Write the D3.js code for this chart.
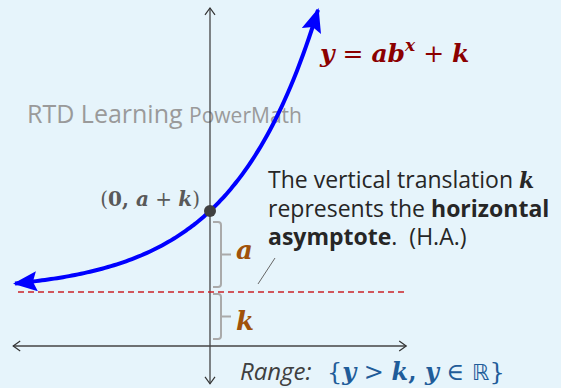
<!DOCTYPE html>
<html>
<head>
<meta charset="utf-8">
<script src="https://cdn.jsdelivr.net/npm/d3@7"></script>
<style>
  html, body { margin: 0; padding: 0; background: #e6f4fb; }
  svg { display: block; }
</style>
</head>
<body>
<div id="chart"></div>
<script>
// Chart dimensions.
const w = 561;
const h = 388;

// Function parameters: y = a * b^x + k
const a = 1.5;
const b = 2;
const k = 1;

// Visible extents (data units).
const xView = [-3.5, 5.85];
const yView = [-0.778, 6.407];
const xAxisExtent = [-3.28, 3.27];
const yAxisExtent = [-0.7, 6.26];
const asymptoteExtent = [-3.2, 3.27];
const curveExtent = [-3.25, 1.8];

const mathFont = "'DejaVu Serif', 'Liberation Serif', serif";
const sansFont = "'Open Sans', 'Noto Sans', sans-serif";

const x = d3.scaleLinear(xView, [0, w]);
const y = d3.scaleLinear(yView, [h, 0]);

const svg = d3.select("#chart").append("svg")
  .attr("width", w)
  .attr("height", h)
  .attr("viewBox", [0, 0, w, h]);

svg.append("rect").attr("width", w).attr("height", h).attr("fill", "#e6f4fb");

const defs = svg.append("defs");
// filled arrowhead for the curve
defs.append("marker")
  .attr("id", "head")
  .attr("markerUnits", "userSpaceOnUse")
  .attr("viewBox", "0 -10 24 20")
  .attr("refX", 22).attr("refY", 0)
  .attr("markerWidth", 24).attr("markerHeight", 20)
  .attr("orient", "auto-start-reverse")
  .append("path")
  .attr("d", "M0,-10L24,0L0,10L4,0Z")
  .attr("fill", "#0000ff");
// open chevron for the axes
defs.append("marker")
  .attr("id", "chev")
  .attr("markerUnits", "userSpaceOnUse")
  .attr("viewBox", "-8 -6 10 12")
  .attr("refX", 0).attr("refY", 0)
  .attr("markerWidth", 10).attr("markerHeight", 12)
  .attr("orient", "auto-start-reverse")
  .append("path")
  .attr("d", "M-7,-5L0,0L-7,5")
  .attr("fill", "none")
  .attr("stroke", "#333")
  .attr("stroke-width", 1.2);

// Watermark
const wm = svg.append("text")
  .attr("x", 27).attr("y", 123)
  .attr("font-family", sansFont)
  .attr("fill", "#9a9a9a");
wm.append("tspan").attr("font-size", 25).text("RTD Learning ");
wm.append("tspan").attr("font-size", 21).text("PowerMath");

// Axes
svg.append("line")
  .attr("x1", x(xAxisExtent[0])).attr("x2", x(xAxisExtent[1]))
  .attr("y1", y(0)).attr("y2", y(0))
  .attr("stroke", "#444").attr("stroke-width", 1.3)
  .attr("marker-start", "url(#chev)").attr("marker-end", "url(#chev)");
svg.append("line")
  .attr("x1", x(0)).attr("x2", x(0))
  .attr("y1", y(yAxisExtent[0])).attr("y2", y(yAxisExtent[1]))
  .attr("stroke", "#444").attr("stroke-width", 1.3)
  .attr("marker-start", "url(#chev)").attr("marker-end", "url(#chev)");

// Horizontal asymptote
svg.append("line")
  .attr("x1", x(asymptoteExtent[0])).attr("x2", x(asymptoteExtent[1]))
  .attr("y1", y(k)).attr("y2", y(k))
  .attr("stroke", "#cc2228").attr("stroke-width", 1.5)
  .attr("stroke-dasharray", "6,4");

// Braces for a and k
function brace(y0, y1) {
  const xl = x(0) + 3, xr = x(0) + 11, r = 3, ym = (y0 + y1) / 2;
  return `M${xl},${y0}H${xr - r}Q${xr},${y0} ${xr},${y0 + r}V${y1 - r}Q${xr},${y1} ${xr - r},${y1}H${xl}` +
    `M${xr},${ym}H${xr + 10}`;
}
svg.append("path").attr("d", brace(y(a + k) + 11, y(k) - 5))
  .attr("fill", "none").attr("stroke", "#aaa").attr("stroke-width", 2);
svg.append("path").attr("d", brace(y(k) + 2, y(0) - 7))
  .attr("fill", "none").attr("stroke", "#aaa").attr("stroke-width", 2);

svg.append("text").attr("x", x(0) + 26).attr("y", (y(a + k) + y(k)) / 2 + 8)
  .attr("font-family", mathFont).attr("font-weight", "bold").attr("font-style", "italic")
  .attr("font-size", 26).attr("fill", "#a0520a").text("a");
svg.append("text").attr("x", x(0) + 26).attr("y", (y(k) + y(0)) / 2 + 11)
  .attr("font-family", mathFont).attr("font-weight", "bold").attr("font-style", "italic")
  .attr("font-size", 26).attr("fill", "#a0520a").text("k");

// Curve
const xs = d3.range(curveExtent[0], curveExtent[1] + 1e-9, 0.05);
const line = d3.line().x(d => x(d)).y(d => y(a * Math.pow(b, d) + k)).curve(d3.curveBasis);
svg.append("path").datum(xs)
  .attr("d", line)
  .attr("fill", "none").attr("stroke", "#0000ff").attr("stroke-width", 4)
  .attr("marker-start", "url(#head)").attr("marker-end", "url(#head)");

// y-intercept point
svg.append("circle").attr("cx", x(0)).attr("cy", y(a + k)).attr("r", 6).attr("fill", "#404040");

// Point label (0, a + k)
const pl = svg.append("text")
  .attr("x", x(0) - 10).attr("y", y(a + k) - 5)
  .attr("text-anchor", "end")
  .attr("font-family", mathFont).attr("font-size", 20).attr("fill", "#595959");
pl.append("tspan").text("(");
pl.append("tspan").attr("font-weight", "bold").text("0");
pl.append("tspan").attr("font-weight", "bold").text(", ");
pl.append("tspan").attr("font-weight", "bold").attr("font-style", "italic").text("a");
pl.append("tspan").text(" + ");
pl.append("tspan").attr("font-weight", "bold").attr("font-style", "italic").text("k");
pl.append("tspan").text(")");

// Equation label
const eq = svg.append("text")
  .attr("x", 320).attr("y", 62)
  .attr("font-family", mathFont).attr("font-size", 25).attr("fill", "#8b0000");
eq.append("tspan").attr("font-weight", "bold").attr("font-style", "italic").text("y");
eq.append("tspan").text(" = ");
eq.append("tspan").attr("font-weight", "bold").attr("font-style", "italic").text("ab");
eq.append("tspan").attr("font-weight", "bold").attr("font-style", "italic")
  .attr("font-size", 17).attr("dy", -11).text("x");
eq.append("tspan").attr("dy", 11).text(" + ");
eq.append("tspan").attr("font-weight", "bold").attr("font-style", "italic").text("k");

// Explanation text
const note = svg.append("text")
  .attr("font-family", sansFont).attr("font-size", 23).attr("fill", "#262626");
const l1 = note.append("tspan").attr("x", 268).attr("y", 188);
l1.append("tspan").text("The vertical translation ");
l1.append("tspan").attr("font-family", mathFont).attr("font-weight", "bold")
  .attr("font-style", "italic").attr("font-size", 22).text("k");
const l2 = note.append("tspan").attr("x", 268).attr("y", 217);
l2.append("tspan").text("represents the ");
l2.append("tspan").attr("font-weight", "bold").text("horizontal");
const l3 = note.append("tspan").attr("x", 268).attr("y", 245);
l3.append("tspan").attr("font-weight", "bold").text("asymptote");
l3.append("tspan").text(".\u00A0 (H.A.)");

// Leader line to asymptote
svg.append("line")
  .attr("x1", 258).attr("y1", y(k) - 8)
  .attr("x2", 275).attr("y2", 258)
  .attr("stroke", "#666").attr("stroke-width", 1);

// Range
svg.append("text")
  .attr("x", 240).attr("y", 380)
  .attr("font-family", sansFont).attr("font-style", "italic")
  .attr("font-size", 24).attr("fill", "#404040").text("Range:");
const rg = svg.append("text")
  .attr("x", 327).attr("y", 380)
  .attr("font-family", mathFont).attr("font-size", 24).attr("fill", "#1f5c99");
rg.append("tspan").text("{");
rg.append("tspan").attr("font-weight", "bold").attr("font-style", "italic").text("y");
rg.append("tspan").text(" > ");
rg.append("tspan").attr("font-weight", "bold").attr("font-style", "italic").text("k");
rg.append("tspan").attr("font-weight", "bold").text(", ");
rg.append("tspan").attr("font-weight", "bold").attr("font-style", "italic").text("y");
rg.append("tspan").text(" \u2208 ");
rg.append("tspan").attr("font-family", "'DejaVu Sans', sans-serif").attr("font-size", 22).text("\u211D");
rg.append("tspan").text("}");
</script>
</body>
</html>
